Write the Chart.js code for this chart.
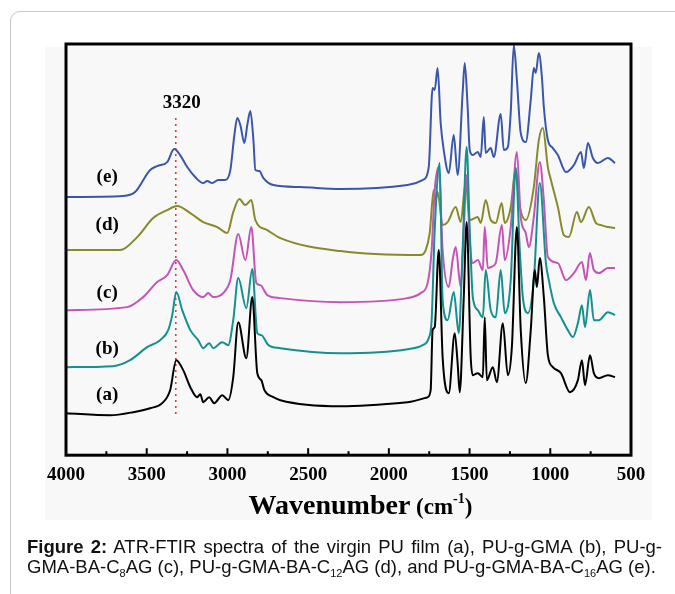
<!DOCTYPE html>
<html>
<head>
<meta charset="utf-8">
<script src="https://cdn.jsdelivr.net/npm/chart.js@4.4.0/dist/chart.umd.min.js"></script>
<style>
  body { margin: 0; background: #fff; }
  #page { position: relative; width: 675px; height: 594px; overflow: hidden; }
  #frame { position: absolute; left: 10px; top: 11px; width: 720px; height: 640px;
           border: 1px solid #c8c8c8; border-radius: 10px; }
  #imgbg { position: absolute; left: 45px; top: 47px; width: 607px; height: 473px; background: #f8f8f8; }
  #wrap { position: absolute; left: 0; top: 0; width: 675px; height: 594px; }
  #caption { position: absolute; left: 27px; top: 537px; font-family: "Liberation Sans", Arial, sans-serif;
             font-size: 18.5px; line-height: 20px; color: #111; white-space: nowrap; }
  #caption .l1 { width: 635px; text-align: justify; text-align-last: justify; }
  #caption sub { font-size: 11px; vertical-align: -4px; line-height: 0; }
</style>
</head>
<body>
<div id="page">
  <div id="frame"></div>
  <div id="imgbg"></div>
  <div id="wrap"><canvas id="chart"></canvas></div>
  <div id="caption">
    <div class="l1"><b>Figure 2:</b> ATR-FTIR spectra of the virgin PU film (a), PU-g-GMA (b), PU-g-</div>
    <div>GMA-BA-C<sub>8</sub>AG (c), PU-g-GMA-BA-C<sub>12</sub>AG (d), and PU-g-GMA-BA-C<sub>16</sub>AG (e).</div>
  </div>
</div>
<script>
// spectra: wavenumber (cm-1) and offset absorbance (a.u.)
const waveA = [4000,3727,3584,3479,3404,3355,3317,3274,3230,3187,3168,3150,3113,3082,3032,2995,2964,2933,2883,2846,2815,2790,2771,2715,2672,2300,1884,1760,1741,1729,1716,1691,1667,1629,1592,1574,1561,1536,1518,1493,1480,1449,1418,1406,1393,1356,1331,1294,1263,1238,1207,1183,1152,1121,1096,1083,1065,1040,1015,984,934,878,829,804,785,754,730,699,643,599];
const valA  = [42,40,43,47,52,65,95,85,68,58,61,53,58,52,60,55,78,133,97,158,82,75,65,58,55,49,53,58,65,125,128,205,98,62,122,92,63,158,233,98,80,82,78,138,75,88,73,132,80,108,228,125,72,125,185,168,197,158,100,88,82,63,75,95,70,100,82,77,80,78];

const waveB = [4000,3708,3603,3497,3417,3367,3342,3317,3280,3230,3181,3150,3113,3088,3032,2995,2964,2933,2883,2846,2815,2790,2746,2672,2300,1884,1791,1753,1735,1716,1685,1667,1636,1598,1567,1543,1518,1499,1480,1449,1418,1400,1369,1338,1307,1282,1245,1214,1189,1170,1139,1102,1065,1027,1009,978,934,891,860,829,804,785,754,730,699,643,599];
const valB  = [88,89,95,108,115,125,140,163,145,125,115,107,112,107,113,110,135,177,147,186,122,120,110,107,102,106,110,117,135,225,292,155,135,163,122,205,308,225,158,145,138,185,145,138,185,142,175,287,205,158,142,175,272,192,175,152,138,125,118,132,150,128,165,135,135,143,140];

const waveC = [4000,3621,3522,3435,3373,3317,3274,3212,3150,3119,3088,3026,2982,2933,2889,2852,2821,2796,2753,2672,2300,1884,1803,1760,1735,1716,1691,1667,1629,1605,1586,1555,1536,1518,1499,1480,1449,1418,1406,1387,1369,1338,1300,1282,1245,1207,1183,1152,1133,1102,1065,1040,1015,953,903,854,804,779,755,730,699,643,599];
const valC  = [145,148,158,173,180,195,185,165,158,162,158,162,175,221,195,228,172,170,160,157,153,157,162,172,205,265,288,205,168,195,208,168,225,280,215,192,195,185,228,187,188,192,230,195,228,303,238,222,208,238,293,255,198,192,175,182,193,175,202,185,182,187,187];

const waveD = [4000,3665,3559,3460,3373,3311,3230,3150,3063,3001,2964,2926,2889,2852,2827,2753,2672,2300,1803,1772,1747,1722,1710,1698,1667,1636,1586,1555,1524,1499,1449,1431,1400,1369,1338,1301,1282,1245,1214,1195,1152,1102,1071,1046,1015,996,953,916,885,835,810,761,717,686,643,599];
const valD  = [205,205,218,237,245,249,242,233,228,222,243,256,250,255,235,225,217,204,200,205,222,265,255,263,230,233,248,233,273,235,238,232,255,235,232,252,232,248,287,255,235,268,315,327,288,275,248,220,218,243,233,248,232,230,228,227];

const waveE = [4000,3646,3572,3479,3435,3373,3330,3293,3249,3200,3150,3125,3094,3057,3013,2982,2957,2939,2920,2895,2877,2858,2839,2827,2802,2777,2715,2548,2300,1884,1791,1753,1729,1716,1698,1679,1660,1629,1598,1574,1543,1530,1512,1499,1480,1449,1431,1412,1400,1369,1350,1307,1288,1263,1245,1226,1207,1183,1152,1121,1102,1090,1071,1052,1040,1015,984,953,903,854,810,792,767,736,705,643,599];
const valE  = [258,259,263,285,289,293,306,300,288,278,272,274,272,275,275,285,320,337,330,312,330,344,315,285,284,277,270,268,266,270,275,288,367,365,387,332,305,282,320,280,362,392,348,305,300,303,298,338,302,307,298,341,305,308,343,410,375,322,313,355,387,382,402,378,348,315,307,300,283,290,303,287,312,297,292,297,292];

// curve labels (a)..(e) and their heights
const curveLabels = ['(a)', '(b)', '(c)', '(d)', '(e)'];
const labelY = [60, 106, 162, 230, 278];
const labelWave = 3745;

// x axis
const xTicks = [4000, 3500, 3000, 2500, 2000, 1500, 1000, 500];
const xMin = 500, xMax = 4000;

// N-H marker
const markerWave = 3320;
const markerLabel = '3320';
const markerRange = [40, 337];

const colors = ['#000000', '#14908e', '#c454b6', '#878a2c', '#3a56ab'];

function toPoints(waves, vals) {
  return waves.map((w, i) => ({ x: w, y: vals[i] }));
}

const series = [[waveA, valA], [waveB, valB], [waveC, valC], [waveD, valD], [waveE, valE]];

const serif = '"Liberation Serif", "Times New Roman", serif';

// frame, inward ticks, marker, labels, axis title
const decorPlugin = {
  id: 'decor',
  beforeDatasetsDraw(chart) {
    const { ctx, scales: { x, y } } = chart;
    const mx = x.getPixelForValue(markerWave);
    ctx.save();
    ctx.strokeStyle = '#e8383d';
    ctx.lineWidth = 1.6;
    ctx.setLineDash([2, 4]);
    ctx.beginPath();
    ctx.moveTo(mx, y.getPixelForValue(markerRange[1]));
    ctx.lineTo(mx, y.getPixelForValue(markerRange[0]));
    ctx.stroke();
    ctx.restore();
  },
  afterDatasetsDraw(chart) {
    const { ctx, chartArea: ca, scales: { x, y } } = chart;
    ctx.save();

    // plot frame
    ctx.strokeStyle = '#000';
    ctx.lineWidth = 3;
    ctx.strokeRect(ca.left, ca.top, ca.right - ca.left, ca.bottom - ca.top);

    // ticks pointing inward, minor every 250
    ctx.lineWidth = 2;
    for (let v = xMin + 250; v < xMax; v += 250) {
      const px = x.getPixelForValue(v);
      const len = v % 500 === 0 ? 7 : 4;
      ctx.beginPath();
      ctx.moveTo(px, ca.bottom);
      ctx.lineTo(px, ca.bottom - len);
      ctx.stroke();
    }

    // marker label
    ctx.fillStyle = '#000';
    ctx.font = 'bold 19px ' + serif;
    ctx.textAlign = 'center';
    ctx.textBaseline = 'middle';
    ctx.fillText(markerLabel, x.getPixelForValue(markerWave) + 6, y.getPixelForValue(352));

    // curve labels
    curveLabels.forEach((t, i) => {
      ctx.fillText(t, x.getPixelForValue(labelWave), y.getPixelForValue(labelY[i]));
    });

    // axis title with superscript
    const big = 'bold 28px ' + serif, mid = 'bold 23px ' + serif, sm = 'bold 14px ' + serif;
    const parts = [['Wavenumber', big, 0], [' (cm', mid, 0], ['-1', sm, -11], [')', mid, 0]];
    let total = 0;
    parts.forEach(p => { ctx.font = p[1]; total += ctx.measureText(p[0]).width; });
    let cx = (ca.left + ca.right) / 2 + 12 - total / 2;
    const base = 514;
    ctx.textAlign = 'left';
    ctx.textBaseline = 'alphabetic';
    parts.forEach(p => {
      ctx.font = p[1];
      ctx.fillText(p[0], cx, base + p[2]);
      cx += ctx.measureText(p[0]).width;
    });

    ctx.restore();
  }
};

new Chart(document.getElementById('chart'), {
  type: 'line',
  data: {
    datasets: series.map((s, i) => ({
      label: curveLabels[i],
      data: toPoints(s[0], s[1]),
      borderColor: colors[i],
      borderWidth: 2,
      pointRadius: 0,
      cubicInterpolationMode: 'monotone',
      fill: false
    }))
  },
  options: {
    responsive: true,
    maintainAspectRatio: false,
    animation: false,
    layout: { padding: { left: 66, top: 44, right: 44, bottom: 100 } },
    plugins: { legend: { display: false }, tooltip: { enabled: false } },
    scales: {
      x: {
        type: 'linear',
        reverse: true,
        min: xMin,
        max: xMax,
        afterBuildTicks: (axis) => { axis.ticks = xTicks.map(v => ({ value: v })); },
        ticks: {
          color: '#000',
          padding: 8,
          maxRotation: 0,
          autoSkip: false,
          callback: (v) => String(v),
          font: { family: serif, weight: 'bold', size: 19 }
        },
        grid: { display: false, drawTicks: false },
        border: { display: false }
      },
      y: { display: false, min: 0, max: 411 }
    }
  },
  plugins: [decorPlugin]
});
</script>
</body>
</html>
